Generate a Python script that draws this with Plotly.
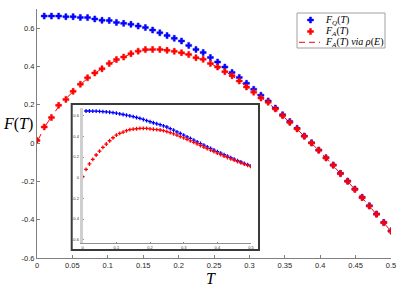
import plotly.graph_objects as go

# ---------------- data ----------------
T_main = [0, 0.0102, 0.0204, 0.0306, 0.0408, 0.051, 0.0612, 0.0714, 0.0816, 0.0918,
          0.102, 0.1122, 0.1224, 0.1327, 0.1429, 0.1531, 0.1633, 0.1735, 0.1837, 0.1939,
          0.2041, 0.2143, 0.2245, 0.2347, 0.2449, 0.2551, 0.2653, 0.2755, 0.2857, 0.2959,
          0.3061, 0.3163, 0.3265, 0.3367, 0.3469, 0.3571, 0.3673, 0.3776, 0.3878, 0.398,
          0.4082, 0.4184, 0.4286, 0.4388, 0.449, 0.4592, 0.4694, 0.4796, 0.4898, 0.5]

FQ_main = [None, 0.663, 0.663, 0.663, 0.660, 0.660, 0.656, 0.655, 0.648, 0.641,
           0.640, 0.630, 0.625, 0.620, 0.611, 0.603, 0.590, 0.576, 0.561, 0.547,
           0.533, 0.510, 0.489, 0.473, 0.447, 0.423, 0.397, 0.369, 0.343, 0.312,
           0.281, 0.250, 0.220, 0.183, 0.148, 0.112, 0.077, 0.037, 0.002, -0.036,
           -0.076, -0.114, -0.158, -0.198, -0.240, -0.283, -0.327, -0.370, -0.414, -0.458]

FA_main = [0.014, 0.084, 0.133, 0.197, 0.228, 0.270, 0.307, 0.341, 0.366, 0.388,
           0.415, 0.436, 0.449, 0.467, 0.480, 0.488, 0.489, 0.489, 0.484, 0.479,
           0.472, 0.462, 0.446, 0.437, 0.416, 0.397, 0.373, 0.352, 0.324, 0.293,
           0.266, 0.235, 0.213, 0.178, 0.143, 0.108, 0.074, 0.035, 0.000, -0.038,
           -0.078, -0.116, -0.160, -0.200, -0.242, -0.285, -0.329, -0.372, -0.416, -0.460]

FA_rho_main = [0.005, 0.080, 0.138, 0.190, 0.232, 0.270, 0.305, 0.338, 0.365, 0.390,
               0.413, 0.433, 0.450, 0.465, 0.477, 0.485, 0.489, 0.489, 0.485, 0.479,
               0.470, 0.460, 0.447, 0.433, 0.416, 0.397, 0.375, 0.352, 0.324, 0.295,
               0.266, 0.237, 0.210, 0.177, 0.143, 0.108, 0.073, 0.035, 0.000, -0.038,
               -0.078, -0.117, -0.159, -0.200, -0.242, -0.285, -0.329, -0.372, -0.416, -0.460]

T_inset = [0, 0.01, 0.02, 0.03, 0.04, 0.05, 0.06, 0.07, 0.08, 0.09,
           0.10, 0.11, 0.12, 0.13, 0.14, 0.15, 0.16, 0.17, 0.18, 0.19,
           0.20, 0.21, 0.22, 0.23, 0.24, 0.25, 0.26, 0.27, 0.28, 0.29,
           0.30, 0.31, 0.32, 0.33, 0.34, 0.35, 0.36, 0.37, 0.38, 0.39,
           0.40, 0.41, 0.42, 0.43, 0.44, 0.45, 0.46, 0.47, 0.48, 0.49, 0.50]

FQ_inset = [None, 0.646, 0.646, 0.645, 0.644, 0.642, 0.640, 0.637, 0.634, 0.630,
            0.625, 0.618, 0.612, 0.605, 0.598, 0.591, 0.583, 0.575, 0.564, 0.553,
            0.542, 0.532, 0.522, 0.513, 0.502, 0.491, 0.475, 0.460, 0.444, 0.428,
            0.412, 0.396, 0.380, 0.363, 0.347, 0.331, 0.315, 0.299, 0.283, 0.268,
            0.253, 0.238, 0.223, 0.208, 0.194, 0.180, 0.166, 0.152, 0.139, 0.126, 0.113]

FA_inset = [0.010, 0.081, 0.133, 0.178, 0.220, 0.258, 0.294, 0.326, 0.358, 0.387,
            0.413, 0.430, 0.442, 0.455, 0.465, 0.471, 0.474, 0.478, 0.478, 0.478,
            0.473, 0.469, 0.466, 0.462, 0.456, 0.447, 0.436, 0.424, 0.412, 0.398,
            0.385, 0.371, 0.357, 0.342, 0.327, 0.312, 0.297, 0.282, 0.267, 0.252,
            0.238, 0.224, 0.210, 0.196, 0.183, 0.170, 0.157, 0.144, 0.132, 0.120, 0.107]

x_ticks = [0, 0.05, 0.1, 0.15, 0.2, 0.25, 0.3, 0.35, 0.4, 0.45, 0.5]
x_ticklabels = ["0", "0.05", "0.1", "0.15", "0.2", "0.25", "0.3", "0.35", "0.4", "0.45", "0.5"]
y_ticks = [-0.6, -0.4, -0.2, 0, 0.2, 0.4, 0.6]
y_ticklabels = ["-0.6", "-0.4", "-0.2", "0", "0.2", "0.4", "0.6"]
xi_ticks = [0, 0.1, 0.2, 0.3, 0.4, 0.5]
xi_ticklabels = ["0", "0.1", "0.2", "0.3", "0.4", "0.5"]

legend_labels = ["<i>F<sub>Q</sub></i>(<i>T</i>)",
                 "<i>F<sub>A</sub></i>(<i>T</i>)",
                 "<i>F<sub>A</sub></i>(<i>T</i>) <i>via ρ</i>(<i>E</i>)"]

BLUE = "#0000ff"
RED = "#ff0000"
TICKFONT = dict(family="Liberation Sans, Arial, sans-serif", size=7.5, color="#262626")
INSETFONT = dict(family="Liberation Sans, Arial, sans-serif", size=4, color="#333")
SERIF = "Liberation Serif, Times New Roman, serif"

# pixel geometry of main plot area
L, R, TOP, BOT = 37, 391, 9, 258
W, H = 399, 286


def px(xp):
    return (xp - L) / (R - L)


def py(yp):
    return (BOT - yp) / (BOT - TOP)


fig = go.Figure()

# main traces
fig.add_trace(go.Scatter(x=T_main, y=FA_rho_main, mode="lines",
                         line=dict(color=RED, width=1, dash="dash"),
                         xaxis="x", yaxis="y", showlegend=False))
fig.add_trace(go.Scatter(x=T_main, y=FQ_main, mode="markers",
                         marker=dict(symbol="cross", size=5, color=BLUE,
                                     line=dict(width=0.5, color=BLUE)),
                         xaxis="x", yaxis="y", showlegend=False))
fig.add_trace(go.Scatter(x=T_main, y=FA_main, mode="markers",
                         marker=dict(symbol="cross", size=5, color=RED,
                                     line=dict(width=0.5, color=RED)),
                         xaxis="x", yaxis="y", showlegend=False))

# inset traces
fig.add_trace(go.Scatter(x=T_inset, y=FQ_inset, mode="markers",
                         marker=dict(symbol="cross", size=3.2, color=BLUE, line=dict(width=0)),
                         xaxis="x2", yaxis="y2", showlegend=False))
fig.add_trace(go.Scatter(x=T_inset, y=FA_inset, mode="markers",
                         marker=dict(symbol="cross", size=3.2, color=RED, line=dict(width=0)),
                         xaxis="x2", yaxis="y2", showlegend=False))

# custom legend glyphs on an overlay pixel axis
fig.add_trace(go.Scatter(x=[310.5], y=[20], mode="markers",
                         marker=dict(symbol="cross", size=5, color=BLUE,
                                     line=dict(width=0.5, color=BLUE)),
                         xaxis="x3", yaxis="y3", showlegend=False, hoverinfo="skip"))
fig.add_trace(go.Scatter(x=[310.5], y=[31.5], mode="markers",
                         marker=dict(symbol="cross", size=5, color=RED,
                                     line=dict(width=0.5, color=RED)),
                         xaxis="x3", yaxis="y3", showlegend=False, hoverinfo="skip"))
fig.add_trace(go.Scatter(x=[299, 320], y=[42.3, 42.3], mode="lines",
                         line=dict(color=RED, width=1, dash="6px,4px"),
                         xaxis="x3", yaxis="y3", showlegend=False, hoverinfo="skip"))

# inset box
ix0, ix1, iy0, iy1 = 71.7, 259, 104, 250
fig.add_shape(type="rect", xref="paper", yref="paper",
              x0=px(ix0), x1=px(ix1), y0=py(iy1), y1=py(iy0),
              line=dict(color="#3a3a3a", width=2), fillcolor="white", layer="below")
# legend box
fig.add_shape(type="rect", xref="paper", yref="paper",
              x0=px(297), x1=px(385), y0=py(48), y1=py(13),
              line=dict(color="#a0a0a0", width=1), fillcolor="white", layer="below")

annotations = []
for lab, yy in zip(legend_labels, [20, 31.5, 42.3]):
    annotations.append(dict(text=lab, x=px(323), y=py(yy), xref="paper", yref="paper",
                            xanchor="left", yanchor="middle", showarrow=False,
                            font=dict(family=SERIF, size=10, color="#000")))
annotations.append(dict(text="<i>F</i>(<i>T</i>)", x=px(18), y=py(124), xref="paper", yref="paper",
                        xanchor="center", yanchor="middle", showarrow=False,
                        font=dict(family=SERIF, size=16, color="#000")))
annotations.append(dict(text="<i>T</i>", x=px(211), y=py(278.5), xref="paper", yref="paper",
                        xanchor="center", yanchor="middle", showarrow=False,
                        font=dict(family=SERIF, size=16, color="#000")))

# inset geometry
IL, IR, IT, IB = 82.7, 251, 108.3, 243

fig.update_layout(
    width=W, height=H,
    margin=dict(l=L, r=W - R, t=TOP, b=H - BOT, pad=0, autoexpand=False),
    paper_bgcolor="white", plot_bgcolor="rgba(0,0,0,0)",
    showlegend=False,
    annotations=annotations,
    xaxis=dict(domain=[0, 1], range=[0, 0.5], tickvals=x_ticks, ticktext=x_ticklabels,
               ticks="inside", ticklen=3, tickcolor="#808080", showgrid=False, zeroline=False,
               showline=True, linecolor="#808080", linewidth=1, tickfont=TICKFONT,
               automargin=False),
    yaxis=dict(domain=[0, 1], range=[-0.6, 0.7], tickvals=y_ticks, ticktext=y_ticklabels,
               ticks="inside", ticklen=3, tickcolor="#808080", showgrid=False, zeroline=False,
               showline=True, linecolor="#808080", linewidth=1, tickfont=TICKFONT,
               automargin=False),
    xaxis2=dict(domain=[px(IL), px(IR)], range=[0, 0.5], anchor="y2",
                tickvals=xi_ticks, ticktext=xi_ticklabels,
                ticks="inside", ticklen=1.5, tickcolor="#808080", showgrid=False, zeroline=False,
                showline=True, linecolor="#909090", linewidth=1,
                tickfont=INSETFONT, automargin=False),
    yaxis2=dict(domain=[py(IB), py(IT)], range=[-0.632, 0.672], anchor="x2",
                tickvals=y_ticks, ticktext=y_ticklabels,
                ticks="inside", ticklen=1.5, tickcolor="#909090", showgrid=False, zeroline=False,
                showline=True, linecolor="#cfcfcf", linewidth=3,
                tickfont=INSETFONT, automargin=False),
    xaxis3=dict(domain=[0, 1], range=[L, R], anchor="y3", overlaying="x", visible=False),
    yaxis3=dict(domain=[0, 1], range=[BOT, TOP], anchor="x3", overlaying="y", visible=False),
)

fig.write_html("out.html", config={"displayModeBar": False},
               post_script="document.body.style.margin='0';document.body.style.overflow='hidden';")
